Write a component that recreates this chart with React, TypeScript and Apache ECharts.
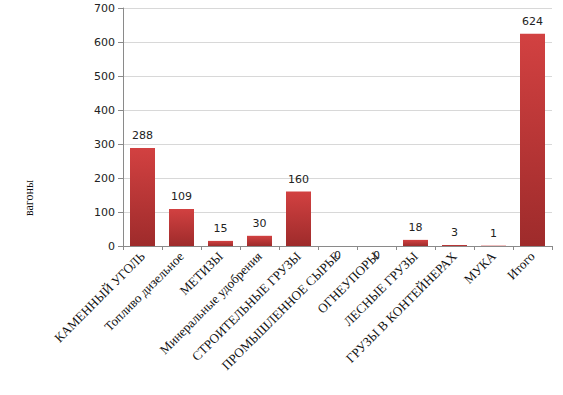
import React, { useEffect, useRef } from "react";
import * as echarts from "echarts";

const categories = [
  "КАМЕННЫЙ УГОЛЬ",
  "Топливо дизельное",
  "МЕТИЗЫ",
  "Минеральные удобрения",
  "СТРОИТЕЛЬНЫЕ ГРУЗЫ",
  "ПРОМЫШЛЕННОЕ СЫРЬЕ",
  "ОГНЕУПОРЫ",
  "ЛЕСНЫЕ ГРУЗЫ",
  "ГРУЗЫ В КОНТЕЙНЕРАХ",
  "МУКА",
  "Итого",
];
const values = [288, 109, 15, 30, 160, 0, 0, 18, 3, 1, 624];
const yTicks = [0, 100, 200, 300, 400, 500, 600, 700];
const yAxisTitle = "вагоны";

export default function App() {
  const ref = useRef<HTMLDivElement>(null);
  useEffect(() => {
    const chart = echarts.init(ref.current!, undefined, { renderer: "svg" });
    chart.setOption({
      animation: false,
      grid: { left: 123, top: 8, right: 11, bottom: 149, containLabel: false },
      xAxis: {
        type: "category",
        data: categories,
        axisLine: { lineStyle: { color: "#8a8a8a" } },
        axisTick: { show: true, length: 4, alignWithLabel: false, lineStyle: { color: "#8a8a8a" } },
        axisLabel: {
          rotate: 45,
          interval: 0,
          margin: 8,
          fontFamily: "Liberation Serif",
          fontSize: 13,
          color: "#111",
        },
      },
      yAxis: {
        type: "value",
        min: yTicks[0],
        max: yTicks[yTicks.length - 1],
        interval: 100,
        axisLine: { show: true, lineStyle: { color: "#8a8a8a" } },
        axisTick: { show: true, length: 5, lineStyle: { color: "#8a8a8a" } },
        splitLine: { lineStyle: { color: "#d8d8d8" } },
        axisLabel: {
          fontFamily: "DejaVu Sans",
          fontSize: 11,
          color: "#222",
          margin: 8,
        },
      },
      graphic: [
        {
          type: "text",
          x: 29,
          y: 198,
          rotation: Math.PI / 2,
          style: {
            text: yAxisTitle,
            fontFamily: "Liberation Serif",
            fontSize: 12,
            fill: "#111",
            align: "center",
            verticalAlign: "middle",
          },
        },
      ],
      series: [
        {
          type: "bar",
          barWidth: 25,
          data: values.map((v) => ({
            value: v,
            label: v === 0 ? { position: "bottom", distance: 4 } : undefined,
          })),
          itemStyle: {
            color: new echarts.graphic.LinearGradient(0, 0, 0, 1, [
              { offset: 0, color: "#d24141" },
              { offset: 1, color: "#9e2b2b" },
            ]),
          },
          label: {
            show: true,
            position: "top",
            distance: 7,
            fontFamily: "DejaVu Sans",
            fontSize: 11,
            color: "#222",
          },
        },
      ],
    });
    return () => chart.dispose();
  }, []);
  return <div ref={ref} style={{ width: 563, height: 395, position: "absolute", left: 0, top: 0 }} />;
}
